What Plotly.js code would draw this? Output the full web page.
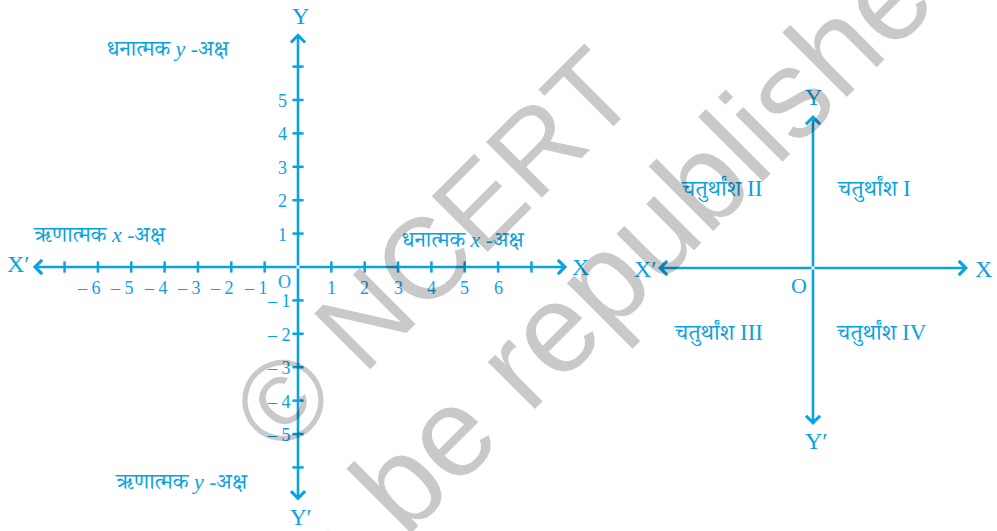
<!DOCTYPE html>
<html>
<head>
<meta charset="utf-8">
<script src="https://cdn.plot.ly/plotly-3.0.1.min.js"></script>
<style>html,body{margin:0;padding:0;background:#fff;}#chart{width:997px;height:531px;}</style>
</head>
<body>
<div id="chart"></div>
<script>
// ---------- data ----------
const leftXTicks = [-7, -6, -5, -4, -3, -2, -1, 1, 2, 3, 4, 5, 6, 7];
const leftXTickLabels = ['', '– 6', '– 5', '– 4', '– 3', '– 2', '– 1', '1', '2', '3', '4', '5', '6', ''];
const leftYTicks = [-6, -5, -4, -3, -2, -1, 1, 2, 3, 4, 5, 6];
const leftYTickLabels = ['', '– 5', '– 4', '– 3', '– 2', '– 1', '1', '2', '3', '4', '5', ''];
const leftXArm = [-7.95, 8.07];
const leftYArm = [-6.99, 7.0];
const rightXArm = [-155, 155];
const rightYArm = [-157, 153];
const quadrantNames = ['चतुर्थांश I', 'चतुर्थांश II', 'चतुर्थांश III', 'चतुर्थांश IV'];
const axisSideNames = ['धनात्मक <i>y</i> -अक्ष', 'ऋणात्मक <i>x</i> -अक्ष', 'धनात्मक <i>x</i> -अक्ष', 'ऋणात्मक <i>y</i> -अक्ष'];
const watermarkLines = ['© NCERT', 'not to be republished'];

// ---------- style ----------
const BLUE = '#0aa2e0';
const SERIF = 'Liberation Serif, Noto Serif Devanagari, Noto Sans Devanagari, Lohit Devanagari, serif';
const PXU = 33.35, PYU = 33.4; // pixels per unit (left diagram)

const traces = [
  { // x-axis ticks (left)
    x: leftXTicks, y: leftXTicks.map(() => 0), xaxis: 'x', yaxis: 'y',
    mode: 'markers', type: 'scatter', hoverinfo: 'skip',
    marker: {symbol: 'line-ns', size: 8, line: {color: BLUE, width: 2.5}}
  },
  { // y-axis ticks (left)
    x: leftYTicks.map(() => 0), y: leftYTicks, xaxis: 'x', yaxis: 'y',
    mode: 'markers', type: 'scatter', hoverinfo: 'skip',
    marker: {symbol: 'line-ew', size: 8, line: {color: BLUE, width: 2.5}}
  }
];

const ann = [];
function arrow(xr, yr, x, y, ax, ay) {
  ann.push({xref: xr, yref: yr, axref: xr, ayref: yr, x: x, y: y, ax: ax, ay: ay,
    text: '', showarrow: true, arrowhead: 4, arrowsize: 1.05, arrowwidth: 2.6, arrowcolor: BLUE});
}
// left axes
arrow('x', 'y', leftXArm[0], 0, 0, 0);
arrow('x', 'y', leftXArm[1], 0, 0, 0);
arrow('x', 'y', 0, leftYArm[0], 0, 0);
arrow('x', 'y', 0, leftYArm[1], 0, 0);
// right axes
arrow('x2', 'y2', rightXArm[0], 0, 0, 0);
arrow('x2', 'y2', rightXArm[1], 0, 0, 0);
arrow('x2', 'y2', 0, rightYArm[0], 0, 0);
arrow('x2', 'y2', 0, rightYArm[1], 0, 0);

function label(xr, yr, x, y, text, size, opts) {
  ann.push(Object.assign({xref: xr, yref: yr, x: x, y: y, text: text, showarrow: false,
    font: {family: SERIF, size: size, color: BLUE}, xanchor: 'center', yanchor: 'middle'}, opts || {}));
}
// tick labels
leftXTicks.forEach((v, i) => {
  const t = leftXTickLabels[i];
  if (!t) return;
  if (v < 0) label('x', 'y', v, 0, t, 18, {xanchor: 'right', xshift: 5, yshift: -21});
  else label('x', 'y', v, 0, t, 18, {yshift: -21});
});
leftYTicks.forEach((v, i) => {
  const t = leftYTickLabels[i];
  if (!t) return;
  if (v < 0) label('x', 'y', 0, v, t, 18, {xanchor: 'right', xshift: -5, yshift: -1});
  else label('x', 'y', 0, v, t, 18, {xanchor: 'right', xshift: -9, yshift: -1});
});
// left axis names
label('x', 'y', (18 - 298) / PXU, 0.09, 'X′', 24);
label('x', 'y', (580 - 298) / PXU, 0, 'X', 24);
label('x', 'y', 0.06, (267 - 16) / PYU, 'Y', 24);
label('x', 'y', 0.1, (267 - 517) / PYU, 'Y′', 23);
label('x', 'y', (284 - 298) / PXU, (267 - 282) / PYU, 'O', 18);
// half-axis names
label('x', 'y', (168 - 298) / PXU, (267 - 48) / PYU, axisSideNames[0], 22);
label('x', 'y', (100 - 298) / PXU, (267 - 234) / PYU, axisSideNames[1], 22);
label('x', 'y', (463 - 298) / PXU, (267 - 239) / PYU, axisSideNames[2], 22);
label('x', 'y', (182 - 298) / PXU, (267 - 481) / PYU, axisSideNames[3], 22);
// right diagram labels
label('x2', 'y2', 0, 171, 'Y', 24);
label('x2', 'y2', 3, -173, 'Y′', 24);
label('x2', 'y2', -168, -1, 'X′', 24);
label('x2', 'y2', 170, -1, 'X', 24);
label('x2', 'y2', -14, -17, 'O', 22);
label('x2', 'y2', 61, 79, quadrantNames[0], 23);
label('x2', 'y2', -92, 79, quadrantNames[1], 23);
label('x2', 'y2', -95, -65, quadrantNames[2], 23);
label('x2', 'y2', 68, -65, quadrantNames[3], 23);

// watermark
ann.push({xref: 'x2', yref: 'y2', x: 433 - 813, y: 268 - 250, text: watermarkLines[0], showarrow: false,
  textangle: -45, font: {family: 'Liberation Sans, Arial, sans-serif', size: 115, color: 'rgba(0,0,0,0.21)'},
  xanchor: 'center', yanchor: 'middle'});
ann.push({xref: 'x2', yref: 'y2', x: 542 - 813, y: 268 - 340, text: watermarkLines[1], showarrow: false,
  textangle: -45, font: {family: 'Liberation Sans, Arial, sans-serif', size: 126, color: 'rgba(0,0,0,0.21)'},
  xanchor: 'center', yanchor: 'middle'});

const hidden = {visible: false, fixedrange: true, showgrid: false, zeroline: false};
const layout = {
  width: 997, height: 531,
  margin: {l: 0, r: 0, t: 0, b: 0, pad: 0},
  paper_bgcolor: '#fff', plot_bgcolor: '#fff',
  showlegend: false,
  xaxis: Object.assign({range: [-298 / PXU, (997 - 298) / PXU], domain: [0, 1]}, hidden),
  yaxis: Object.assign({range: [-(531 - 267) / PYU, 267 / PYU], domain: [0, 1]}, hidden),
  xaxis2: Object.assign({range: [-813, 184], overlaying: 'x', anchor: 'y2'}, hidden),
  yaxis2: Object.assign({range: [-263, 268], overlaying: 'y', anchor: 'x2'}, hidden),
  annotations: ann
};
Plotly.newPlot('chart', traces, layout, {displayModeBar: false, staticPlot: true});
</script>
</body>
</html>
